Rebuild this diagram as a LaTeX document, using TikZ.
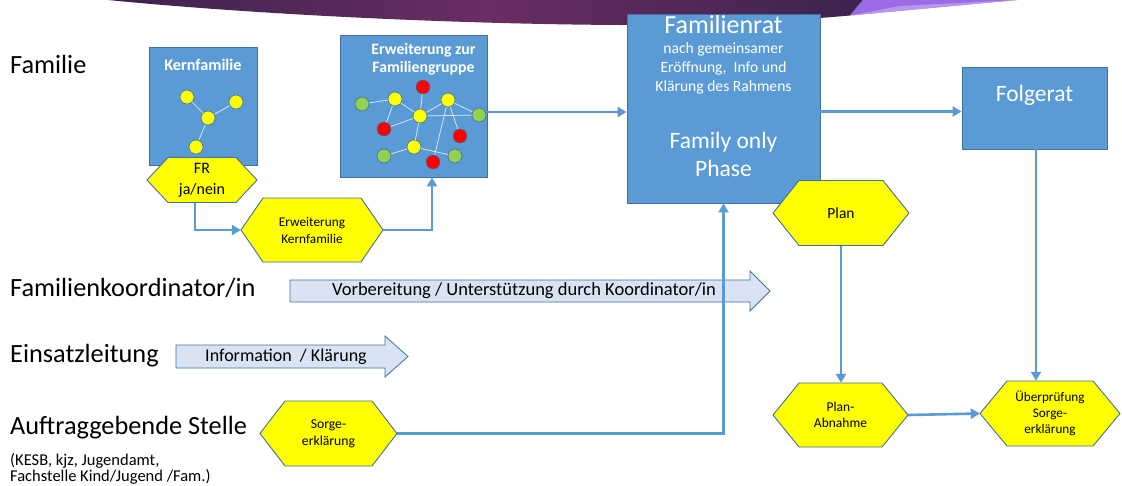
\documentclass[tikz,border=0pt]{standalone}
\usepackage{fontspec}
\setmainfont{Carlito}
\usetikzlibrary{arrows.meta,calc}
\definecolor{boxblue}{HTML}{5B9BD5}
\definecolor{boxedge}{HTML}{41719C}
\definecolor{hexyellow}{HTML}{FFFF00}
\definecolor{arrowfill}{HTML}{DAE3F3}
\definecolor{purpdark}{HTML}{3C2350}
\definecolor{purpmid}{HTML}{6B2D63}
\definecolor{violetA}{HTML}{9B6BE6}
\definecolor{violetB}{HTML}{B896F0}
\definecolor{dotgreen}{HTML}{92D050}
\definecolor{dotred}{HTML}{FF0000}
\definecolor{dotyellow}{HTML}{FFFF00}
\tikzset{
  bluebox/.style={draw=boxedge, fill=boxblue, line width=0.8pt, inner sep=0pt},
  hexshape/.style={draw=boxedge, fill=hexyellow, line width=0.9pt},
  hextext/.style={align=center, inner sep=0pt},
  conn/.style={draw=boxblue, line width=2.6pt, -{Triangle[length=9pt,width=10pt]}},
  blockarrow/.style={draw=boxedge, fill=arrowfill, line width=0.8pt},
  rowlabel/.style={anchor=west, inner sep=0pt, font=\fontsize{26.3}{28}\selectfont},
  dot/.style={circle, draw=boxedge, line width=0.6pt, minimum size=14pt, inner sep=0pt},
  netline/.style={draw=white!80!boxblue, line width=0.7pt},
  whitetxt/.style={text=white, align=center, inner sep=0pt},
}
\newcommand{\myhex}[8]{% name, cx, cy, w, h, inset, font, text
  \draw[hexshape] ({#2-#4/2},#3) -- ({#2-#4/2+#6},{#3-#5/2}) -- ({#2+#4/2-#6},{#3-#5/2}) -- ({#2+#4/2},#3) -- ({#2+#4/2-#6},{#3+#5/2}) -- ({#2-#4/2+#6},{#3+#5/2}) -- cycle;
  \node[hextext, minimum width=#4pt, minimum height=#5pt, font=#7] (#1) at (#2,#3) {#8};
}
\begin{document}
\begin{tikzpicture}[x=1pt,y=-1pt]
\useasboundingbox (0,0) rectangle (1122,485);
\fill[white] (0,0) rectangle (1122,485);
% header decoration
\shade[left color=purpdark, right color=purpdark, middle color=purpmid]
  (108,0) .. controls (250,14) and (450,24) .. (620,25) .. controls (720,25) and (800,20) .. (850,15.5) -- (863,0) -- cycle;
\fill[violetA] (850,15.5) -- (863,0) -- (1017,0) -- cycle;
\fill[violetB] (850,15.5) -- (1017,0) -- (900,6) -- cycle;

% row labels
\node[rowlabel] (lfam) at (10,64) {Familie};
\node[rowlabel] (lkoord) at (10,288) {Familienkoordinator/in};
\node[rowlabel] (leinsatz) at (10,356) {Einsatzleitung};
\node[rowlabel] (lauftrag) at (10,428) {Auftraggebende Stelle};
\node[anchor=west, inner sep=0pt, align=left, font=\fontsize{16.5}{14}\selectfont] (lstellen) at (10,469) {(KESB, kjz, Jugendamt,\\Fachstelle Kind/Jugend /Fam.)};

% boxes
\node[bluebox, minimum width=108pt, minimum height=118pt] (kern) at (203,106) {};
\node[whitetxt, font=\bfseries\fontsize{16.2}{18}\selectfont] (kerntitle) at (203,65) {Kernfamilie};
\node[bluebox, minimum width=147pt, minimum height=142pt] (erw) at (413.5,106) {};
\node[whitetxt, font=\bfseries\fontsize{15.8}{18}\selectfont] (erwtitle) at (423.5,59) {Erweiterung zur\\Familiengruppe};
\node[bluebox, minimum width=193pt, minimum height=189pt] (rat) at (723.5,108.5) {};
\node[whitetxt, font=\fontsize{26}{28}\selectfont] (rattitle) at (723.5,25) {Familienrat};
\node[whitetxt, font=\fontsize{15.6}{19}\selectfont] (ratsub) at (723.5,68) {nach gemeinsamer\\Eröffnung,\ \ Info und\\Klärung des Rahmens};
\node[whitetxt, font=\fontsize{23.5}{28}\selectfont] (ratphase) at (723.5,154) {Family only\\Phase};
\node[bluebox, minimum width=145pt, minimum height=82pt] (folg) at (1034.5,108) {};
\node[whitetxt, font=\fontsize{23.5}{26}\selectfont] (folgtitle) at (1034.5,95) {Folgerat};

% Kernfamilie network
\node[dot, fill=dotyellow] (k1) at (187,97) {};
\node[dot, fill=dotyellow] (k2) at (236,102) {};
\node[dot, fill=dotyellow] (k3) at (208,118) {};
\node[dot, fill=dotyellow] (k4) at (196,147) {};
\draw[netline] (k1) -- (k3) (k2) -- (k3) (k3) -- (k4);

% Familiengruppe network
\node[dot, fill=dotyellow] (y1) at (395,99) {};
\node[dot, fill=dotred] (r1) at (423,87) {};
\node[dot, fill=dotyellow] (y2) at (448,100) {};
\node[dot, fill=dotgreen] (gl) at (362,104) {};
\node[dot, fill=dotgreen] (gr) at (479,115) {};
\node[dot, fill=dotyellow] (yc) at (420,116) {};
\node[dot, fill=dotred] (rl) at (384,129) {};
\node[dot, fill=dotred] (rr) at (460,136) {};
\node[dot, fill=dotyellow] (yb) at (414,147) {};
\node[dot, fill=dotgreen] (gbl) at (384,156) {};
\node[dot, fill=dotred] (rb) at (433,162) {};
\node[dot, fill=dotgreen] (gbr) at (455,156) {};
\draw[netline] (gl) -- (y1) (y1) -- (yc) (y1) -- (rl) (r1) -- (yc) (yc) -- (y2) (yc) -- (gr)
  (rl) -- (yc) (y2) -- (gr) (y2) -- (rr) (y2) -- (rb) (yc) -- (yb) (yb) -- (gbl) (yb) -- (gbr);

% block arrows
\draw[blockarrow] (290,280) -- (750,280) -- (750,271) -- (770,291) -- (750,311) -- (750,302) -- (290,302) -- cycle;
\node[inner sep=0pt, font=\fontsize{18.5}{20}\selectfont] (vorb) at (524,291) {Vorbereitung / Unterstützung durch Koordinator/in};
\draw[blockarrow] (176,345) -- (385,345) -- (385,336) -- (408,356.5) -- (385,377) -- (385,368) -- (176,368) -- cycle;
\node[inner sep=0pt, font=\fontsize{18}{20}\selectfont] (info) at (286,356.5) {Information\ \ / Klärung};

% hexagons
\myhex{fr}{202}{180}{110}{45}{21}{\fontsize{16}{21}\selectfont}{FR\\ja/nein}
\myhex{ek}{312}{230}{142}{64}{22}{\fontsize{13.3}{17}\selectfont}{Erweiterung\\Kernfamilie}
\myhex{plan}{841}{213}{136}{65}{26}{\fontsize{15.5}{18}\selectfont}{Plan}
\myhex{pa}{840.5}{415}{135}{64}{26}{\fontsize{13.5}{15.5}\selectfont}{Plan-\\Abnahme}
\myhex{ub}{1050}{413.5}{140}{65}{27}{\fontsize{13.2}{16}\selectfont}{Überprüfung\\Sorge-\\erklärung}
\myhex{se}{328.5}{433.5}{137}{65}{25}{\fontsize{13.7}{17}\selectfont}{Sorge-\\erklärung}

% connectors
\coordinate (c1) at (195,230);
\draw[conn] (fr.south -| c1) -- (c1) -- (ek.west);
\draw[conn] (ek.east) -| ($(erw.south)+(18.5,0)$);
\coordinate (a3) at ($(erw.east)+(0,6)$);
\draw[conn] (a3) -- (a3 -| rat.west);
\coordinate (a4) at ($(rat.east)+(0,3)$);
\draw[conn] (a4) -- (a4 -| folg.west);
\draw[conn] (se.east) -| (rat.south);
\draw[conn] (plan.south) -- (plan.south |- pa.north);
\coordinate (a7) at ($(folg.south)+(1.5,0)$);
\draw[conn] (a7) -- (a7 |- ub.north);
\draw[conn] (pa.east) -- (ub.west);
\end{tikzpicture}
\end{document}
